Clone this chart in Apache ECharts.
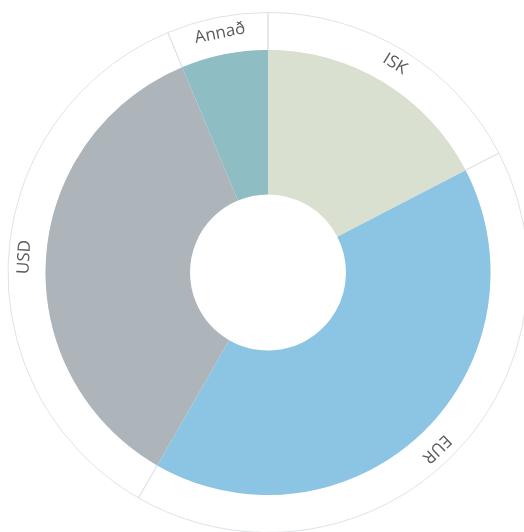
<!DOCTYPE html>
<html>
<head>
<meta charset="utf-8">
<script src="https://cdn.jsdelivr.net/npm/echarts@6/dist/echarts.min.js"></script>
<style>
  html, body { margin: 0; padding: 0; background: #fff; }
  #chart { width: 524px; height: 532px; }
</style>
</head>
<body>
<div id="chart"></div>
<script>
// gjaldmiðlar og hlutföll (%)
var categories = ["ISK", "EUR", "USD", "Annað"];
var shares = [17.4, 40.9, 35.4, 6.3];
var colors = ["#dae0cf", "#8cc5e3", "#adb5bb", "#8ebdc3"];

var total = 0;
shares.forEach(function (v) { total += v; });

// miðhorn hverrar sneiðar, notað fyrir snúning merkja í ytri hring
var acc = 0;
var ringData = categories.map(function (name, i) {
  var mid = (acc + shares[i] / 2) / total * 360;
  acc += shares[i];
  var item = { name: name, value: shares[i] };
  // neðri helmingur: halda texta á hvolfi eins og í frumriti
  if (mid > 90 && mid < 270) {
    item.label = { rotate: -mid };
  }
  return item;
});

var pieData = categories.map(function (name, i) {
  return { name: name, value: shares[i], itemStyle: { color: colors[i] } };
});

var myChart = echarts.init(document.getElementById("chart"));
var option = {
  animation: false,
  series: [
    {
      type: "pie",
      z: 1,
      center: [268, 272.5],
      radius: [222, 260],
      startAngle: 90,
      clockwise: true,
      silent: true,
      avoidLabelOverlap: false,
      itemStyle: {
        color: "rgba(0,0,0,0)",
        borderColor: "#dfe2e7",
        borderWidth: 1
      },
      label: {
        show: true,
        position: "inside",
        rotate: "tangential",
        color: "#5a5a5a",
        fontFamily: "Open Sans",
        fontSize: 17
      },
      labelLine: { show: false },
      emphasis: { disabled: true },
      data: ringData
    },
    {
      type: "pie",
      z: 2,
      center: [268, 272.5],
      radius: [78, 222.5],
      startAngle: 90,
      clockwise: true,
      silent: true,
      label: { show: false },
      labelLine: { show: false },
      itemStyle: { borderWidth: 0 },
      emphasis: { disabled: true },
      data: pieData
    }
  ]
};
myChart.setOption(option);
</script>
</body>
</html>
